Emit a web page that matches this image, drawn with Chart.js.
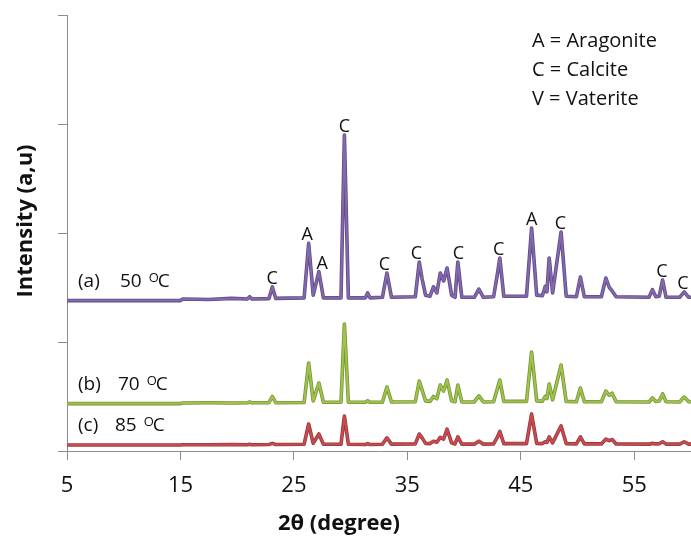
<!DOCTYPE html>
<html>
<head>
<meta charset="utf-8">
<title>XRD patterns</title>
<script src="https://cdn.jsdelivr.net/npm/chart.js@4.4.1/dist/chart.umd.min.js"></script>
<style>
  html, body { margin: 0; padding: 0; background: #fff; }
  #wrap { position: relative; width: 691px; height: 536px; }
</style>
</head>
<body>
<div id="wrap"><canvas id="xrd"></canvas></div>
<script>
'use strict';

// 2-theta positions (degree), shared by the three patterns
const TWO_THETA = [
  5, 15, 15.2, 17.5, 19.5, 20.9, 21.1, 21.3, 22.8, 23.1, 23.4,
  25.9, 26.3, 26.7, 27.2, 27.6, 29.15, 29.45, 29.8, 31.3, 31.5, 31.7,
  32.8, 33.2, 33.6, 35.7, 36.05, 36.3, 36.6, 37.0, 37.3, 37.6, 37.9, 38.2, 38.5, 38.9,
  39.2, 39.45, 39.8, 40.9, 41.3, 41.7, 42.6, 42.9, 43.15, 43.5,
  45.5, 45.95, 46.4, 46.9, 47.15, 47.3, 47.5, 47.8, 48.55, 49.0,
  49.9, 50.25, 50.6, 52.1, 52.5, 52.8, 53.05, 53.4,
  56.3, 56.6, 56.9, 57.2, 57.5, 57.8, 59.0, 59.4, 59.8, 60
];

// (a) 50 oC
const SAMPLE_A = [
  1.38, 1.38, 1.395, 1.39, 1.40, 1.395, 1.415, 1.395, 1.398, 1.505, 1.40,
  1.405, 1.905, 1.43, 1.645, 1.405, 1.405, 2.899, 1.405, 1.405, 1.45, 1.405,
  1.41, 1.633, 1.41, 1.415, 1.734, 1.58, 1.43, 1.42, 1.505, 1.45, 1.633, 1.56, 1.679, 1.43,
  1.41, 1.734, 1.41, 1.41, 1.486, 1.41, 1.415, 1.60, 1.771, 1.42,
  1.42, 2.046, 1.43, 1.425, 1.51, 1.46, 1.771, 1.45, 2.009, 1.42,
  1.415, 1.596, 1.415, 1.415, 1.587, 1.50, 1.468, 1.415,
  1.41, 1.48, 1.415, 1.42, 1.569, 1.41, 1.41, 1.46, 1.41, 1.41
];

// (b) 70 oC
const SAMPLE_B = [
  0.435, 0.435, 0.44, 0.442, 0.44, 0.442, 0.45, 0.442, 0.443, 0.50, 0.443,
  0.445, 0.807, 0.46, 0.624, 0.447, 0.447, 1.165, 0.447, 0.447, 0.46, 0.447,
  0.448, 0.587, 0.45, 0.452, 0.642, 0.56, 0.46, 0.455, 0.50, 0.48, 0.605, 0.55, 0.651, 0.46,
  0.452, 0.605, 0.45, 0.45, 0.505, 0.45, 0.452, 0.56, 0.651, 0.455,
  0.455, 0.908, 0.46, 0.458, 0.50, 0.48, 0.615, 0.47, 0.789, 0.455,
  0.452, 0.578, 0.452, 0.452, 0.55, 0.51, 0.53, 0.452,
  0.45, 0.486, 0.455, 0.458, 0.523, 0.452, 0.45, 0.495, 0.452, 0.452
];

// (c) 85 oC
const SAMPLE_C = [
  0.055, 0.055, 0.058, 0.057, 0.06, 0.058, 0.062, 0.058, 0.06, 0.07, 0.06,
  0.062, 0.248, 0.07, 0.156, 0.062, 0.062, 0.321, 0.062, 0.06, 0.068, 0.06,
  0.062, 0.12, 0.063, 0.065, 0.156, 0.12, 0.07, 0.068, 0.09, 0.08, 0.125, 0.11, 0.2, 0.075,
  0.065, 0.13, 0.063, 0.063, 0.09, 0.063, 0.065, 0.12, 0.18, 0.068,
  0.068, 0.34, 0.07, 0.068, 0.085, 0.078, 0.13, 0.075, 0.23, 0.068,
  0.065, 0.13, 0.065, 0.065, 0.11, 0.095, 0.105, 0.065,
  0.063, 0.07, 0.065, 0.066, 0.085, 0.063, 0.063, 0.085, 0.063, 0.063
];

const X_TICKS = [5, 15, 25, 35, 45, 55];
const Y_TICKS = [0, 1, 2, 3, 4];

// phase letters over the 50 oC pattern
const PEAK_TEXT = ['C', 'A', 'A', 'C', 'C', 'C', 'C', 'C', 'A', 'C', 'C', 'C'];
const PEAK_X = [23.09, 26.18, 27.5, 29.45, 32.98, 35.8, 39.5, 43.04, 45.95, 48.5, 57.43, 59.28];

const SAMPLE_NAMES = ['(a)', '(b)', '(c)'];
const SAMPLE_TEMPS = ['50', '70', '85'];
const KEY_LINES = ['A = Aragonite', 'C = Calcite', 'V = Vaterite'];

const FONT = '"Open Sans", "DejaVu Sans", sans-serif';

function toPoints(values) {
  return TWO_THETA.map((t, i) => ({ x: t, y: values[i] }));
}

function trace(values, core, edge) {
  return [
    { data: toPoints(values), borderColor: edge, borderWidth: 3.6, order: 2 },
    { data: toPoints(values), borderColor: core, borderWidth: 2, order: 1 },
  ];
}

// highest point of pattern (a) close to a label position
function peakTop(pos) {
  let top = -Infinity;
  TWO_THETA.forEach((t, i) => {
    if (Math.abs(t - pos) <= 0.45) top = Math.max(top, SAMPLE_A[i]);
  });
  return top;
}

const textLayer = {
  id: 'textLayer',
  afterDraw(chart) {
    const { ctx } = chart;
    const x = chart.scales.x;
    const y = chart.scales.y;
    ctx.save();
    ctx.fillStyle = '#111';
    ctx.textBaseline = 'alphabetic';

    ctx.font = `18px ${FONT}`;
    ctx.textAlign = 'center';
    PEAK_TEXT.forEach((txt, i) => {
      ctx.fillText(txt, x.getPixelForValue(PEAK_X[i]), y.getPixelForValue(peakTop(PEAK_X[i])) - 3);
    });

    const series = [SAMPLE_A, SAMPLE_B, SAMPLE_C];
    const numX = [120, 118, 115];
    ctx.textAlign = 'left';
    SAMPLE_NAMES.forEach((name, i) => {
      const base = y.getPixelForValue(series[i][0]) - 14;
      ctx.font = `19px ${FONT}`;
      ctx.fillText(name, 78, base);
      ctx.fillText(SAMPLE_TEMPS[i], numX[i], base);
      let cx = numX[i] + ctx.measureText(SAMPLE_TEMPS[i]).width + 7;
      ctx.font = `13px ${FONT}`;
      ctx.fillText('O', cx, base - 5);
      cx += ctx.measureText('O').width - 1;
      ctx.font = `19px ${FONT}`;
      ctx.fillText('C', cx, base);
    });

    ctx.font = `20px ${FONT}`;
    KEY_LINES.forEach((line, i) => {
      ctx.fillText(line, 532, 47 + i * 29);
    });

    ctx.font = `bold 22px ${FONT}`;
    ctx.textAlign = 'center';
    ctx.fillText('2\u03b8 (degree)', 339, 530);

    ctx.translate(32, 221);
    ctx.rotate(-Math.PI / 2);
    ctx.fillText('Intensity (a,u)', 0, 0);
    ctx.restore();
  },
};

const AXIS_GREY = '#8c8c8c';

new Chart(document.getElementById('xrd'), {
  type: 'line',
  data: {
    datasets: [
      ...trace(SAMPLE_A, '#8468ac', '#5f4a86'),
      ...trace(SAMPLE_B, '#9fc449', '#76933a'),
      ...trace(SAMPLE_C, '#cc4a4f', '#953a3c'),
    ],
  },
  options: {
    responsive: true,
    maintainAspectRatio: false,
    animation: false,
    layout: { padding: { top: 15, right: 0, left: 0, bottom: 0 } },
    elements: {
      point: { radius: 0 },
      line: { tension: 0, fill: false, borderJoinStyle: 'round', borderCapStyle: 'round' },
    },
    plugins: { legend: { display: false }, tooltip: { enabled: false } },
    scales: {
      x: {
        type: 'linear',
        min: 5,
        max: 60,
        afterBuildTicks: (scale) => { scale.ticks = X_TICKS.map((v) => ({ value: v })); },
        afterFit: (scale) => { scale.height = 85; },
        grid: { drawOnChartArea: false, drawTicks: true, tickLength: 9, color: AXIS_GREY },
        border: { color: AXIS_GREY, width: 1 },
        ticks: { color: '#111', font: { family: FONT, size: 22 }, padding: 13, maxRotation: 0 },
      },
      y: {
        min: 0,
        max: 4,
        afterBuildTicks: (scale) => { scale.ticks = Y_TICKS.map((v) => ({ value: v })); },
        afterFit: (scale) => { scale.width = 67; },
        grid: { drawOnChartArea: false, drawTicks: true, tickLength: 9, color: AXIS_GREY },
        border: { color: AXIS_GREY, width: 1 },
        ticks: { display: false },
      },
    },
  },
  plugins: [textLayer],
});
</script>
</body>
</html>
